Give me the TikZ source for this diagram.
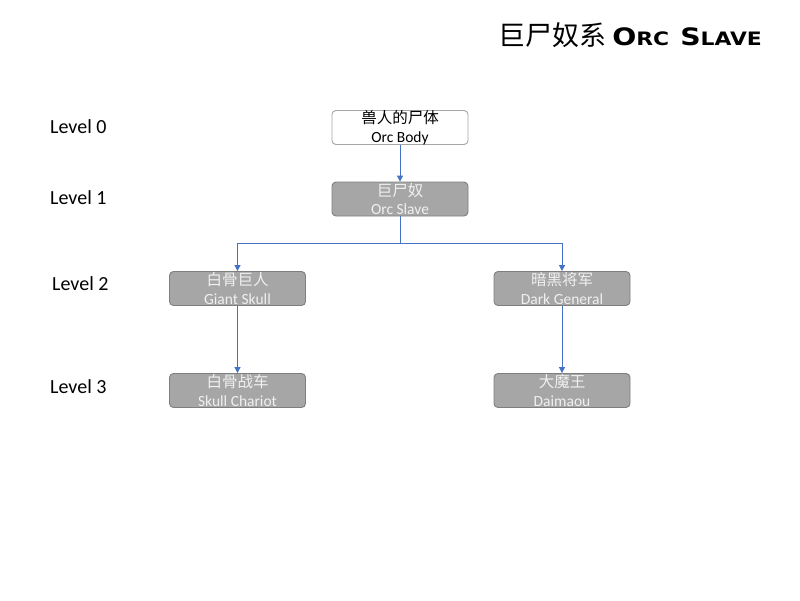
\documentclass[tikz,border=0pt]{standalone}
\usepackage{fontspec}
\setmainfont{Carlito}
\newfontfamily\cjk{Noto Sans CJK SC}
\newfontfamily\titlefont{DejaVu Sans}[FakeStretch=1.18]
\usetikzlibrary{arrows.meta}
\definecolor{boxgray}{HTML}{A6A6A6}
\definecolor{boxedge}{HTML}{7F7F7F}
\definecolor{linkblue}{HTML}{4472C4}
\tikzset{
  lvbox/.style={rounded corners=4pt, minimum width=136pt, minimum height=34pt, inner sep=0pt, align=center, font=\fontsize{15.5}{18.5}\selectfont, line width=0.9pt},
  graybox/.style={lvbox, fill=boxgray, draw=boxedge, text=white!94!black},
  whitebox/.style={lvbox, fill=white, draw=boxgray, text=black},
  link/.style={draw=linkblue, line width=1pt, -{Triangle[length=6pt,width=6pt]}},
  lvl/.style={anchor=west, inner sep=0pt, font=\fontsize{20}{22}\selectfont}
}
\begin{document}
\begin{tikzpicture}[x=1pt,y=-1pt]
\useasboundingbox (0,0) rectangle (800,600);
\node[anchor=east, inner sep=0pt, font=\fontsize{27}{29}\selectfont] (title) at (762,35)
  {\cjk 巨尸奴系 \titlefont\bfseries {\fontsize{24}{27}\selectfont O}{\fontsize{18.5}{20}\selectfont RC} {\fontsize{24}{27}\selectfont S}{\fontsize{18.5}{20}\selectfont LAVE}};
\node[lvl] (l0) at (50,127) {Level 0};
\node[lvl] (l1) at (50,198) {Level 1};
\node[lvl] (l2) at (52,284) {Level 2};
\node[lvl] (l3) at (50,387) {Level 3};
\node[whitebox] (body) at (400,127.5) {{\cjk 兽人的尸体}\\Orc Body};
\node[graybox] (slave) at (400,199) {{\cjk 巨尸奴}\\Orc Slave};
\node[graybox] (skull) at (237.5,288.5) {{\cjk 白骨巨人}\\Giant Skull};
\node[graybox] (general) at (562,288.5) {{\cjk 暗黑将军}\\Dark General};
\node[graybox] (chariot) at (237.5,390.5) {{\cjk 白骨战车}\\Skull Chariot};
\node[graybox] (daimaou) at (562,390.5) {{\cjk 大魔王}\\Daimaou};
\coordinate (split) at (400,243);
\draw[link] (body) -- (slave);
\draw[link] (slave.south) -- (split) -| (skull.north);
\draw[link] (split) -| (general.north);
\draw[link] (skull) -- (chariot);
\draw[link] (general) -- (daimaou);
\end{tikzpicture}
\end{document}
